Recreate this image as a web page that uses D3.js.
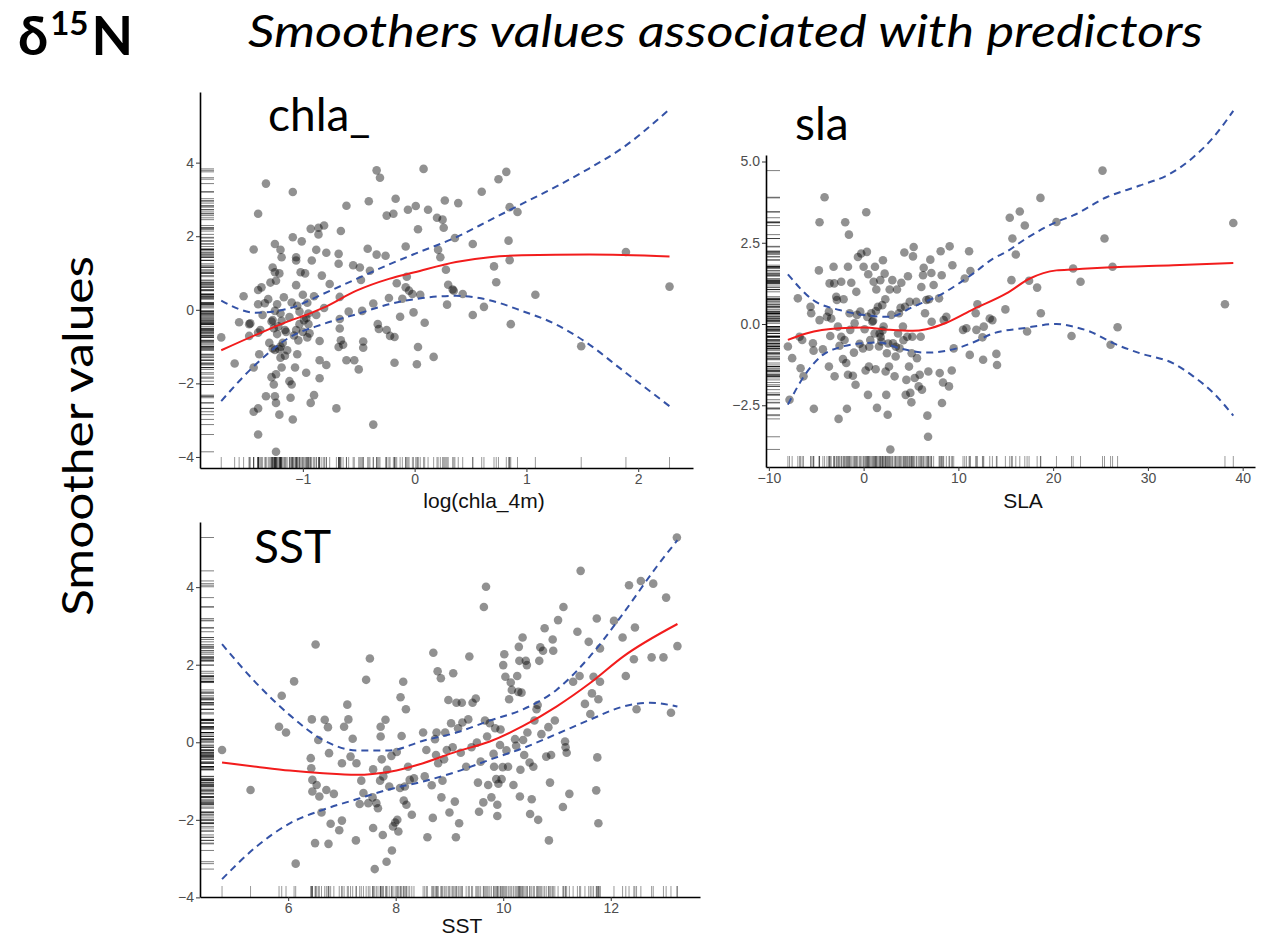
<!DOCTYPE html>
<html><head><meta charset="utf-8">
<script src="https://cdn.jsdelivr.net/npm/d3@7"></script>
<style>body{margin:0;background:#fff} svg{display:block}</style>
</head><body>
<svg id="c" width="1268" height="938"></svg>
<script>
// ---------- DATA ----------
const chlaPoints = [[-1.73,-0.75],[-1.61,-1.46],[-1.57,-0.34],[-1.53,0.37],[-1.48,-0.39],[-1.48,-0.71],[-1.44,1.64],[-1.44,-1.57],[-1.44,-2.77],[-1.40,2.61],[-1.40,0.54],[-1.40,0.15],[-1.40,-0.62],[-1.40,-2.68],[-1.40,-3.39],[-1.39,-1.21],[-1.37,0.61],[-1.36,-0.14],[-1.33,3.43],[-1.33,-2.35],[-1.31,0.29],[-1.29,0.74],[-1.28,-1.83],[-1.27,-1.05],[-1.27,1.15],[-1.27,-0.28],[-1.26,-2.03],[-1.24,-3.86],[-1.25,1.02],[-1.25,-2.35],[-1.25,1.79],[-1.25,-0.03],[-1.24,0.79],[-1.24,-1.75],[-1.24,-2.53],[-1.23,0.15],[-1.23,-0.66],[-1.21,-2.85],[-1.21,-1.07],[-1.21,0.99],[-1.20,1.63],[-1.19,-1.57],[-1.19,1.43],[-1.19,-0.30],[-1.17,0.34],[-1.16,-1.25],[-1.12,-1.94],[-1.11,-2.39],[-1.10,-2.03],[-1.09,3.2],[-1.09,1.97],[-1.09,-2.98],[-1.07,-1.57],[-1.06,1.43],[-1.06,1.34],[-1.06,0.67],[-1.05,0.11],[-1.05,-1.21],[-1.04,-0.83],[-1.03,-0.39],[-1.02,1.02],[-1.01,1.86],[-1.0,0.41],[-0.99,-0.28],[-0.98,0.99],[-0.97,-1.71],[-0.96,0.19],[-0.96,-0.75],[-0.95,-0.39],[-0.93,2.2],[-0.93,-2.53],[-0.92,1.34],[-0.90,-2.32],[-0.90,0.37],[-0.88,1.63],[-0.88,-0.14],[-0.86,2.05],[-0.86,2.23],[-0.85,-0.85],[-0.85,-1.37],[-0.85,-1.86],[-0.83,0.93],[-0.81,2.29],[-0.81,0.05],[-0.79,1.55],[-0.79,-1.5],[-0.76,0.70],[-0.70,-2.68],[-0.68,1.52],[-0.68,1.25],[-0.68,-1.01],[-0.67,0.35],[-0.67,-0.25],[-0.67,-0.51],[-0.66,2.14],[-0.66,-0.83],[-0.64,-0.95],[-0.61,2.83],[-0.61,-1.37],[-0.59,-0.05],[-0.55,1.21],[-0.54,-1.37],[-0.50,-1.62],[-0.49,1.15],[-0.48,0.81],[-0.47,-0.03],[-0.46,-0.86],[-0.46,-1.03],[-0.42,1.66],[-0.41,2.95],[-0.40,1.06],[-0.37,0.17],[-0.37,-3.12],[-0.34,1.5],[-0.34,3.79],[-0.33,-0.39],[-0.32,-0.52],[-0.31,3.59],[-0.26,1.47],[-0.25,-0.55],[-0.25,2.56],[-0.23,0.32],[-0.22,-0.71],[-0.19,2.61],[-0.18,-1.44],[-0.18,-0.74],[-0.17,3.02],[-0.16,0.72],[-0.13,-0.19],[-0.11,0.30],[-0.08,1.72],[-0.08,0.61],[-0.07,0.90],[-0.06,2.72],[-0.05,0.52],[-0.02,0.43],[-0.01,-0.07],[0.01,2.82],[0.02,-1.48],[0.03,2.19],[0.03,-1.01],[0.05,0.41],[0.08,3.83],[0.09,-0.35],[0.12,2.72],[0.17,-1.28],[0.20,2.5],[0.21,1.63],[0.23,1.43],[0.25,2.45],[0.26,2.23],[0.27,2.97],[0.28,1.09],[0.29,0.14],[0.30,0.68],[0.34,0.55],[0.35,0.52],[0.36,1.95],[0.39,2.9],[0.43,0.43],[0.52,1.79],[0.52,-0.14],[0.60,3.21],[0.62,0.08],[0.71,1.18],[0.73,0.75],[0.75,3.55],[0.82,3.75],[0.84,1.88],[0.85,2.79],[0.85,1.35],[0.86,-0.39],[0.92,2.66],[1.08,0.41],[1.49,-0.99],[1.89,1.57],[2.28,0.63],
[-1.22,-0.45],[-1.18,-0.9],[-1.15,-0.6],[-1.12,-0.2],[-1.08,-0.7],[-1.14,-1.1],[-1.3,-0.9],[-1.26,-0.5],[-1.2,-1.3],[-1.1,0.2],[-1.0,-0.6],[-0.95,-0.1],
[-1.20,-0.10],[-1.28,-0.32],[-1.16,-0.55],[-1.03,-0.05],[-0.97,-0.23],[-1.20,-1.0],[-1.25,-1.09],[-1.34,0.18],[-1.06,-0.55],[-0.94,-0.64],[-1.47,-0.37],[-1.38,-0.55]];
const chlaFit   = [[-1.73,-1.10],[-1.42,-0.68],[-1.12,-0.30],[-0.97,-0.14],[-0.82,0.05],[-0.52,0.52],[-0.23,0.84],[0,1.02],[0.37,1.30],[0.67,1.43],[0.96,1.48],[1.56,1.50],[2.28,1.45]];
const chlaUpper = [[-1.73,0.25],[-1.42,-0.08],[-1.12,0.04],[-0.82,0.43],[-0.52,0.84],[-0.23,1.23],[0,1.52],[0.37,1.97],[0.67,2.43],[0.96,2.88],[1.26,3.34],[1.56,3.84],[1.85,4.38],[2.28,5.45]];
const chlaLower = [[-1.73,-2.48],[-1.42,-1.48],[-1.12,-0.75],[-0.82,-0.39],[-0.52,-0.12],[-0.23,0.15],[0.07,0.32],[0.37,0.38],[0.67,0.26],[0.96,-0.03],[1.26,-0.39],[1.56,-0.94],[1.85,-1.62],[2.28,-2.62]];

const slaPoints = [[-7.99,-0.69],[-7.82,-2.33],[-7.54,-1.05],[-6.94,0.79],[-6.76,-0.39],[-6.65,-1.36],[-6.48,-0.49],[-6.34,-1.61],[-5.6,0.53],[-5.53,0.33],[-5.35,-0.59],[-5.28,-0.82],[-5.25,-2.61],[-4.72,1.65],[-4.65,3.13],[-4.65,0.12],[-4.3,-0.78],[-4.12,3.9],[-3.87,0.22],[-3.66,0.38],[-3.66,-1.31],[-3.59,1.25],[-3.52,-0.37],[-3.42,0.17],[-3.17,1.76],[-3.1,1.25],[-3.06,-1.61],[-2.89,0.84],[-2.82,0.74],[-2.71,-0.08],[-2.64,-2.92],[-2.54,-0.67],[-2.36,1.30],[-2.36,-0.39],[-2.18,-1.08],[-2.11,0.76],[-2.01,-0.49],[-1.94,3.13],[-1.83,-1.20],[-1.76,-2.61],[-1.65,1.76],[-1.65,-1.56],[-1.55,2.75],[-1.48,0.33],[-1.41,-0.18],[-1.30,1.27],[-1.13,-1.59],[-1.02,-0.88],[-0.95,0.02],[-0.85,-1.87],[-0.77,0.99],[-0.70,0.28],[-0.60,2.06],[-0.42,-0.61],[-0.35,0.38],[-0.25,2.17],[-0.07,-0.75],[0,1.76],[0.11,-0.16],[0.21,-1.43],[0.28,3.44],[0.35,2.22],[0.39,0.22],[0.46,-2.18],[0.49,1.53],[0.56,-1.31],[0.70,-0.49],[0.81,0.33],[0.92,0.07],[1.06,1.30],[1.16,-0.29],[1.20,1.76],[1.27,-1.39],[1.34,1.06],[1.41,-2.58],[1.51,0.53],[1.62,-0.69],[1.69,-0.29],[1.76,1.35],[1.87,-0.54],[1.97,0.58],[2.04,1.96],[2.11,-0.08],[2.22,1.55],[2.29,0.76],[2.32,-1.46],[2.39,-2.18],[2.46,-0.90],[2.54,-2.79],[2.68,-1.31],[2.75,1.06],[2.82,-3.86],[2.92,0.28],[3.03,1.35],[3.10,-0.59],[3.27,-1.61],[3.38,-1.00],[3.52,1.06],[3.63,-0.29],[3.73,0.33],[3.80,-0.75],[3.98,1.27],[4.15,-0.08],[4.30,2.20],[4.37,0.53],[4.44,-2.18],[4.51,-1.72],[4.61,-0.39],[4.68,1.47],[4.79,-1.31],[4.86,0.68],[4.93,-2.12],[5.04,-2.41],[5.07,-0.90],[5.14,-0.39],[5.21,2.08],[5.28,2.37],[5.39,-1.66],[5.56,0.68],[5.63,-1.05],[5.81,-1.92],[5.92,-1.56],[6.02,-0.39],[6.09,1.14],[6.16,-2.02],[6.27,1.50],[6.34,1.73],[6.48,0.33],[6.62,0.74],[6.73,-2.82],[6.80,-3.47],[6.83,-1.46],[6.90,0.76],[7.04,1.98],[7.15,1.57],[7.18,0.07],[7.39,1.20],[7.96,0.79],[8.03,-1.51],[8.13,2.24],[8.24,1.50],[8.27,-2.43],[8.38,-1.80],[8.45,0.12],[8.73,0.22],[9.01,-1.92],[9.08,2.39],[9.30,-1.43],[9.37,1.81],[9.51,-0.75],[10.49,-0.18],[10.67,1.40],[10.85,-0.13],[11.13,2.24],[11.20,-0.95],[11.27,1.63],[11.83,0.33],[11.90,-0.18],[12.01,0.61],[12.54,-0.41],[12.61,-1.10],[12.68,-0.08],[13.31,0.17],[13.59,0.12],[14.01,-0.92],[14.08,-1.26],[14.96,0.45],[15.42,3.27],[15.60,1.35],[15.70,2.63],[16.06,2.14],[16.48,3.46],[17.01,3.03],[17.25,-0.23],[17.46,1.33],[18.31,1.12],[18.66,3.88],[18.70,0.33],[20.35,3.14],[21.94,-0.37],[22.11,1.71],[22.89,1.30],[25.21,4.72],[25.42,2.63],[26.06,-0.64],[26.27,1.76],[26.80,-0.10],[38.13,0.61],[39.01,3.11],
[1.0,0.1],[1.8,-0.4],[2.6,-0.6],[3.4,-0.7],[4.2,-0.5],[0.6,-0.7],[3.9,0.5],[1.3,0.4],[2.0,-0.2]];
const slaFit   = [[-7.99,-0.49],[-6.06,-0.29],[-2.54,-0.13],[0,-0.11],[2.75,-0.18],[5.21,-0.21],[6.62,-0.16],[8.73,0.04],[11.55,0.45],[15.07,0.94],[17.54,1.40],[20.35,1.65],[22.11,1.68],[25.63,1.74],[32.68,1.81],[39.01,1.88]];
const slaUpper = [[-7.99,1.53],[-5.35,0.74],[-2.54,0.43],[2.75,0.22],[5.21,0.53],[8.03,0.89],[11.55,1.55],[13.66,2.01],[15.07,2.22],[16.83,2.57],[18.59,2.88],[20.35,3.14],[22.11,3.34],[25.63,3.90],[29.15,4.26],[32.32,4.62],[34.79,5.13],[36.90,5.74],[39.01,6.56]];
const slaLower = [[-7.99,-2.48],[-6.06,-1.51],[-4.30,-0.95],[-2.54,-0.72],[0,-0.59],[1.69,-0.57],[3.80,-0.75],[6.62,-0.88],[9.44,-0.78],[11.55,-0.57],[13.66,-0.29],[16.83,-0.13],[20.35,0],[22.11,-0.08],[23.87,-0.23],[26.34,-0.59],[29.15,-0.90],[32.68,-1.21],[34.79,-1.61],[36.90,-2.12],[39.01,-2.82]];

const sstPoints = [[4.77,-0.20],[5.30,-1.23],[5.83,0.40],[5.88,1.20],[5.96,0.25],[6.11,1.57],[6.14,-3.13],[6.42,-0.41],[6.43,-0.67],[6.44,0.59],[6.45,-0.97],[6.45,-1.27],[6.50,-2.60],[6.51,2.52],[6.53,-1.10],[6.56,0.06],[6.58,-1.40],[6.62,-1.81],[6.68,0.58],[6.71,-1.23],[6.74,0.39],[6.75,-2.62],[6.76,-0.28],[6.79,-2.10],[6.85,-1.33],[6.95,-2.27],[7.00,-0.54],[7.00,-2.02],[7.04,0.40],[7.10,0.97],[7.12,0.59],[7.16,-0.37],[7.20,0.09],[7.26,-2.53],[7.27,-0.54],[7.33,-1.59],[7.36,-0.99],[7.40,-1.31],[7.45,1.61],[7.49,-1.57],[7.52,2.16],[7.57,-1.42],[7.58,-0.70],[7.58,-2.21],[7.61,-3.27],[7.64,-1.57],[7.67,-1.70],[7.71,-0.99],[7.72,0.40],[7.72,0.15],[7.74,-0.44],[7.76,-2.39],[7.77,-0.88],[7.81,0.58],[7.83,-3.08],[7.84,-0.71],[7.88,-1.14],[7.92,-0.35],[7.93,-2.79],[7.95,-2.17],[7.99,-2.07],[8.02,-0.25],[8.03,-2.0],[8.05,-2.30],[8.08,-1.18],[8.09,1.16],[8.11,0.16],[8.14,1.56],[8.15,-1.50],[8.17,-1.14],[8.19,0.85],[8.20,-1.61],[8.23,-0.63],[8.26,-0.97],[8.30,-1.87],[8.34,-0.93],[8.51,0.25],[8.54,-0.88],[8.57,-0.20],[8.59,-2.45],[8.67,-1.11],[8.69,-1.95],[8.70,2.31],[8.73,0.08],[8.75,-0.33],[8.76,0.25],[8.78,1.83],[8.79,-0.54],[8.84,1.65],[8.85,-1.42],[8.87,-0.99],[8.90,-0.44],[8.92,0.25],[8.95,-0.20],[8.98,1.09],[9.00,-1.81],[9.03,0.49],[9.06,-0.13],[9.07,1.78],[9.10,-1.53],[9.12,-2.45],[9.13,1.02],[9.16,0.36],[9.18,-2.09],[9.21,-0.27],[9.23,1.02],[9.24,0.51],[9.31,-0.63],[9.35,0.59],[9.37,2.21],[9.41,-0.13],[9.43,1.02],[9.49,1.13],[9.51,-0.01],[9.53,-1.04],[9.55,-1.79],[9.58,-0.50],[9.63,-1.55],[9.64,3.49],[9.66,0.56],[9.68,4.01],[9.70,0.15],[9.72,-1.10],[9.75,0.49],[9.78,-1.42],[9.82,-0.30],[9.83,-0.63],[9.85,0.36],[9.87,-0.95],[9.89,-1.61],[9.89,-1.90],[9.91,-1.07],[9.94,-0.07],[9.95,0.33],[9.97,-0.95],[9.99,-0.64],[10.0,1.99],[10.02,2.27],[10.04,1.69],[10.06,-0.21],[10.09,-0.63],[10.11,1.11],[10.14,1.54],[10.16,1.35],[10.19,-1.10],[10.22,0.08],[10.24,-0.09],[10.26,1.71],[10.28,1.30],[10.29,2.46],[10.30,2.10],[10.31,-1.40],[10.32,-0.71],[10.34,1.28],[10.36,2.70],[10.37,0.06],[10.39,-0.33],[10.42,2.10],[10.44,1.99],[10.45,0.25],[10.49,-0.52],[10.50,-1.85],[10.53,-1.47],[10.56,-0.63],[10.58,0.56],[10.62,0.85],[10.64,0.96],[10.65,-2.0],[10.67,2.10],[10.69,2.45],[10.71,0.21],[10.74,2.36],[10.77,2.94],[10.80,-0.37],[10.84,0.39],[10.85,-2.53],[10.87,-1.04],[10.89,-0.33],[10.92,2.65],[10.93,2.36],[10.96,0.56],[11.02,3.15],[11.11,-1.67],[11.12,3.49],[11.15,0.02],[11.16,-0.13],[11.18,-0.27],[11.23,-1.33],[11.30,1.56],[11.38,2.85],[11.42,1.71],[11.44,4.42],[11.52,0.99],[11.59,2.59],[11.62,0.73],[11.65,1.26],[11.68,1.69],[11.73,-1.24],[11.74,3.19],[11.75,-0.39],[11.77,1.11],[11.77,-2.09],[11.80,1.56],[11.80,2.42],[12.06,3.13],[12.22,2.70],[12.28,1.71],[12.34,4.05],[12.43,2.14],[12.45,2.96],[12.48,0.85],[12.56,4.16],[12.76,2.19],[12.79,4.09],[12.98,2.19],[13.03,3.73],[13.12,0.76],[13.23,5.28],[13.24,2.48]];
const sstFit   = [[4.77,-0.52],[5.41,-0.63],[6.03,-0.73],[6.65,-0.80],[7.27,-0.84],[7.89,-0.76],[8.51,-0.54],[9.13,-0.24],[9.75,0.02],[10.37,0.42],[10.99,0.92],[11.61,1.52],[12.23,2.21],[13.24,3.05]];
const sstUpper = [[4.77,2.53],[5.41,1.52],[6.03,0.70],[6.65,0.06],[7.27,-0.21],[7.89,-0.21],[8.51,0.04],[9.13,0.25],[9.75,0.56],[10.37,0.85],[10.99,1.35],[11.61,2.21],[12.23,3.32],[12.85,4.52],[13.24,5.21]];
const sstLower = [[4.77,-3.53],[5.41,-2.69],[6.03,-2.09],[6.65,-1.74],[7.27,-1.47],[7.89,-1.21],[8.51,-1.01],[9.13,-0.76],[9.75,-0.45],[10.37,-0.15],[10.99,0.21],[11.61,0.58],[12.23,0.92],[12.73,1.02],[13.24,0.92]];

const chlaXTicks = [-1, 0, 1, 2], chlaYTicks = [-4, -2, 0, 2, 4];
const slaXTicks = [-10, 0, 10, 20, 30, 40], slaYTicks = [-2.5, 0, 2.5, 5];
const sstXTicks = [6, 8, 10, 12], sstYTicks = [-4, -2, 0, 2, 4];

// ---------- DRAW ----------
const svg = d3.select('#c');
const titleFont = "Lato, 'Open Sans', sans-serif";
const tickFont = "'Liberation Sans', Arial, sans-serif";

function panel(o) {
  const x = d3.scaleLinear().domain(o.xDomain).range(o.xRange);
  const y = d3.scaleLinear().domain(o.yDomain).range(o.yRange);
  const g = svg.append('g');
  const x0 = o.xRange[0], yB = o.yRange[0];

  // rugs
  g.append('g').selectAll('line').data(o.points).join('line')
    .attr('x1', d => x(d[0])).attr('x2', d => x(d[0]))
    .attr('y1', yB - 11).attr('y2', yB)
    .attr('stroke', '#000').attr('stroke-opacity', 0.4).attr('stroke-width', 1);
  g.append('g').selectAll('line').data(o.points).join('line')
    .attr('x1', x0).attr('x2', x0 + 14)
    .attr('y1', d => y(d[1])).attr('y2', d => y(d[1]))
    .attr('stroke', '#000').attr('stroke-opacity', 0.5).attr('stroke-width', 1);

  // points
  g.append('g').selectAll('circle').data(o.points).join('circle')
    .attr('cx', d => x(d[0])).attr('cy', d => y(d[1])).attr('r', 4.3)
    .attr('fill', '#000').attr('fill-opacity', 0.43);

  const line = d3.line().x(d => x(d[0])).y(d => y(d[1])).curve(d3.curveMonotoneX);
  [o.upper, o.lower].forEach(b => g.append('path').attr('d', line(b))
    .attr('fill', 'none').attr('stroke', '#3452a6').attr('stroke-width', 2)
    .attr('stroke-dasharray', '7,5'));
  g.append('path').attr('d', line(o.fit)).attr('fill', 'none')
    .attr('stroke', '#f21c1c').attr('stroke-width', 2);

  // axes
  const ax = g.append('g').attr('transform', `translate(0,${yB})`)
    .call(d3.axisBottom(x).tickValues(o.xTicks).tickSize(4).tickSizeOuter(0).tickPadding(2)
      .tickFormat(d3.format('d')));
  const ay = g.append('g').attr('transform', `translate(${x0},0)`)
    .call(d3.axisLeft(y).tickValues(o.yTicks).tickSize(4).tickSizeOuter(0).tickPadding(2)
      .tickFormat(d3.format(o.yFormat || 'd')));
  [ax, ay].forEach(a => {
    a.select('.domain').attr('stroke', '#000').attr('stroke-width', 1.6);
    a.selectAll('.tick line').attr('stroke', '#333');
    a.selectAll('.tick text').attr('fill', '#4d4d4d').style('font-family', tickFont).style('font-size', '14px');
  });

  g.append('text').attr('x', o.xTitlePos[0]).attr('y', o.xTitlePos[1]).attr('text-anchor', 'middle')
    .style('font-family', tickFont).style('font-size', '21px').attr('fill', '#111').text(o.xTitle);
  g.append('text').attr('x', o.titlePos[0]).attr('y', o.titlePos[1])
    .style('font-family', titleFont).style('font-size', '46px').attr('fill', '#000').text(o.title);
}

panel({points: chlaPoints, fit: chlaFit, upper: chlaUpper, lower: chlaLower,
  xDomain: [-1.92, 2.49], xRange: [200, 693], yDomain: [-4.3, 5.92], yRange: [468, 92],
  xTicks: chlaXTicks, yTicks: chlaYTicks, xTitle: 'log(chla_4m)', xTitlePos: [484, 508],
  title: 'chla_', titlePos: [268, 131]});
panel({points: slaPoints, fit: slaFit, upper: slaUpper, lower: slaLower,
  xDomain: [-10.3, 41.3], xRange: [766, 1255], yDomain: [-4.4, 5.2], yRange: [467, 155],
  xTicks: slaXTicks, yTicks: slaYTicks, yFormat: '.1f', xTitle: 'SLA', xTitlePos: [1023, 508],
  title: 'sla', titlePos: [795, 140]});
panel({points: sstPoints, fit: sstFit, upper: sstUpper, lower: sstLower,
  xDomain: [4.36, 13.66], xRange: [200, 700], yDomain: [-3.99, 5.68], yRange: [897, 522],
  xTicks: sstXTicks, yTicks: sstYTicks, xTitle: 'SST', xTitlePos: [462, 933],
  title: 'SST', titlePos: [254, 563]});

// titles
const t = svg.append('text').attr('x', 18).attr('y', 55)
  .style('font-family', titleFont).style('font-weight', 'bold').style('font-size', '54px');
t.append('tspan').text('δ');
t.append('tspan').attr('dy', -20).attr('dx', 2).style('font-size', '33px').text('15');
t.append('tspan').attr('dy', 20).attr('dx', 3).text('N');

svg.append('text').attr('x', 248).attr('y', 47).attr('textLength', 955).attr('lengthAdjust', 'spacingAndGlyphs')
  .style('font-family', titleFont).style('font-style', 'italic').style('font-size', '44px').text('Smoothers values associated with predictors');

svg.append('text').attr('transform', 'translate(93,436) rotate(-90)').attr('text-anchor', 'middle')
  .attr('textLength', 360).attr('lengthAdjust', 'spacingAndGlyphs')
  .style('font-family', titleFont).style('font-size', '43px').text('Smoother values');
</script>
</body></html>
